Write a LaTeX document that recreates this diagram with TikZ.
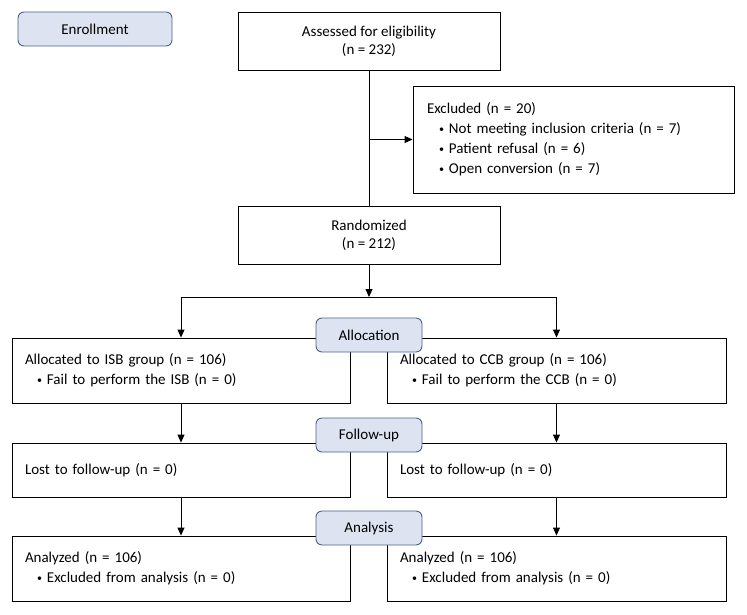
\documentclass[tikz,border=0pt]{standalone}
\usepackage{fontspec}
\setmainfont{Carlito}
\usetikzlibrary{arrows.meta}
\definecolor{bleuclair}{RGB}{221,227,240}
\definecolor{bleufonce}{RGB}{72,98,135}
\newcommand{\puce}{\hspace*{12pt}\raisebox{1.5pt}{\fontsize{10}{10}\selectfont\textbullet}\ }

\begin{document}
\begin{tikzpicture}[x=1pt,y=-1pt]
\tikzset{boite/.style={draw, line width=0.9pt, inner sep=0pt, align=center, font=\fontsize{15}{18}\selectfont}}
\tikzset{liste/.style={boite, align=left, inner xsep=13pt, text width=#1, font=\fontsize{15}{20}\selectfont}}
\tikzset{etape/.style={draw=bleufonce, fill=bleuclair, rounded corners=6pt, line width=0.9pt, minimum height=34pt, font=\fontsize{15}{18}\selectfont}}
\tikzset{fleche/.style={-{Triangle[length=8pt,width=7pt]}, line width=0.9pt}}
\useasboundingbox (0,0) rectangle (747,615);
\node[etape, minimum width=154pt] (enr) at (95,29) {Enrollment};
\node[boite, minimum width=262pt, minimum height=58pt] (elig) at (369,41) {Assessed for eligibility\\(n = 232)};
\node[liste=293pt, inner xsep=14pt, minimum height=107pt] (excl) at (573.5,139.5) {Excluded (n = 20)\\\puce Not meeting inclusion criteria (n = 7)\\\puce Patient refusal (n = 6)\\\puce Open conversion (n = 7)};
\node[boite, minimum width=262pt, minimum height=58pt] (rand) at (369,235) {Randomized\\(n = 212)};
\coordinate (bif) at (369,297);
\node[liste=312pt, minimum height=65pt] (isb) at (181,370.5) {Allocated to ISB group (n = 106)\\\puce Fail to perform the ISB (n = 0)};
\node[liste=313pt, minimum height=65pt] (ccb) at (556.5,370.5) {Allocated to CCB group (n = 106)\\\puce Fail to perform the CCB (n = 0)};
\node[liste=312pt, minimum height=54pt] (lostI) at (181,470) {Lost to follow-up (n = 0)};
\node[liste=313pt, minimum height=54pt] (lostC) at (556.5,470) {Lost to follow-up (n = 0)};
\node[liste=312pt, minimum height=65pt] (anaI) at (181,568.5) {Analyzed (n = 106)\\\puce Excluded from analysis (n = 0)};
\node[liste=313pt, minimum height=65pt] (anaC) at (556.5,568.5) {Analyzed (n = 106)\\\puce Excluded from analysis (n = 0)};
\node[etape, minimum width=106pt] (alloc) at (369,335) {Allocation};
\node[etape, minimum width=106pt] (fup) at (369,435) {Follow-up};
\node[etape, minimum width=106pt] (anal) at (369,528) {Analysis};
\draw[line width=0.9pt] (elig) -- (rand);
\draw[fleche] (elig.south |- excl.west) -- (excl.west);
\draw[fleche] (rand) -- (bif);
\draw[fleche] (bif) -| (isb.north);
\draw[fleche] (bif) -| (ccb.north);
\draw[fleche] (isb) -- (lostI);
\draw[fleche] (ccb) -- (lostC);
\draw[fleche] (lostI) -- (anaI);
\draw[fleche] (lostC) -- (anaC);
\end{tikzpicture}
\end{document}
